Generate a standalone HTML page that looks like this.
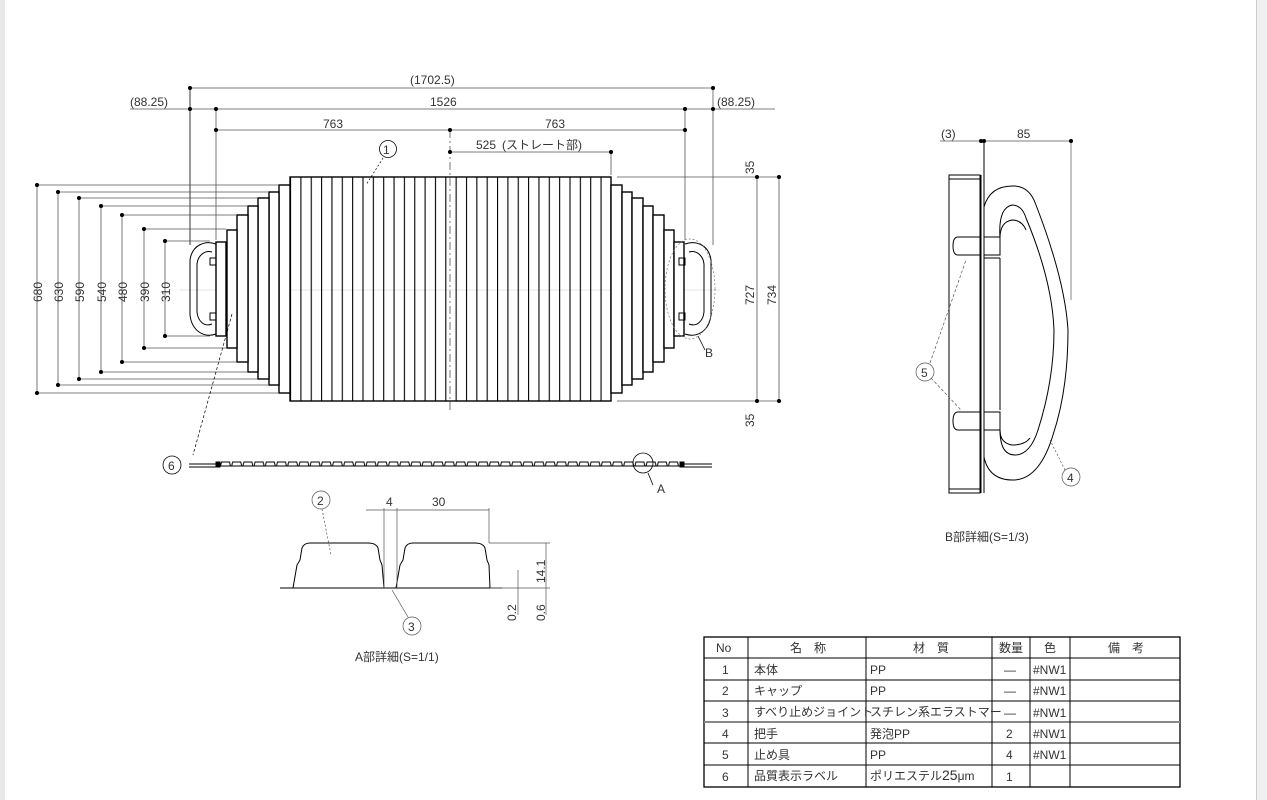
<!DOCTYPE html>
<html><head><meta charset="utf-8"><style>
body{margin:0;background:#fff;}
svg{display:block;font-family:"Liberation Sans","Noto Sans CJK JP",sans-serif;}
text{fill:#333;font-size:12px;}
</style></head><body>
<svg width="1267" height="800" viewBox="0 0 1267 800">
<defs>
<pattern id="sl" x="290" y="0" width="10.35" height="10" patternUnits="userSpaceOnUse">
<line x1="0.5" y1="0" x2="0.5" y2="10" stroke="#000" stroke-width="1.2"/>
</pattern>
<pattern id="ch" x="220" y="460" width="11.2" height="10" patternUnits="userSpaceOnUse">
<path d="M0.5 6 L1.5 2 H9.5 L10.5 6" fill="none" stroke="#000" stroke-width="1"/>
</pattern>
</defs>
<rect x="0" y="0" width="5" height="800" fill="#e8e8e8"/>
<rect x="1257" y="0" width="10" height="800" fill="#f0f0f0"/>
<rect x="1256" y="0" width="1" height="800" fill="#ccc"/>

<g stroke="#555" stroke-width="0.8" fill="none">
<line x1="190" y1="88" x2="713" y2="88"/>
<line x1="130" y1="109" x2="775" y2="109"/>
<line x1="216" y1="130" x2="685" y2="130"/>
<line x1="450" y1="152" x2="611" y2="152"/>
<line x1="190" y1="88" x2="190" y2="245" stroke="#000"/>
<line x1="216" y1="109" x2="216" y2="240"/>
<line x1="713" y1="88" x2="713" y2="245"/>
<line x1="685" y1="109" x2="685" y2="240"/>
<line x1="611" y1="152" x2="611" y2="175"/>
<line x1="450" y1="130" x2="450" y2="410" stroke-dasharray="8,3,2,3"/>
<line x1="37" y1="185" x2="37" y2="393"/><line x1="37" y1="185" x2="278" y2="185"/><line x1="37" y1="393" x2="278" y2="393"/>
<line x1="58" y1="192" x2="58" y2="385"/><line x1="58" y1="192" x2="268" y2="192"/><line x1="58" y1="385" x2="268" y2="385"/>
<line x1="79" y1="198" x2="79" y2="379"/><line x1="79" y1="198" x2="257" y2="198"/><line x1="79" y1="379" x2="257" y2="379"/>
<line x1="101" y1="206" x2="101" y2="372"/><line x1="101" y1="206" x2="247" y2="206"/><line x1="101" y1="372" x2="247" y2="372"/>
<line x1="122" y1="215" x2="122" y2="362"/><line x1="122" y1="215" x2="236" y2="215"/><line x1="122" y1="362" x2="236" y2="362"/>
<line x1="144" y1="229" x2="144" y2="348"/><line x1="144" y1="229" x2="226" y2="229"/><line x1="144" y1="348" x2="226" y2="348"/>
<line x1="165" y1="241" x2="165" y2="336"/><line x1="165" y1="241" x2="210" y2="241"/><line x1="165" y1="336" x2="210" y2="336"/>
<line x1="617" y1="177" x2="779" y2="177"/><line x1="617" y1="401" x2="779" y2="401"/>
<line x1="757" y1="177" x2="757" y2="401"/><line x1="779" y1="177" x2="779" y2="401"/>
<line x1="180" y1="290" x2="720" y2="290" stroke="#ddd"/>
</g>
<g fill="#000">
<circle cx="190" cy="88" r="2"/><circle cx="713" cy="88" r="2"/>
<circle cx="190" cy="109" r="2"/><circle cx="216" cy="109" r="2"/><circle cx="685" cy="109" r="2"/><circle cx="713" cy="109" r="2"/>
<circle cx="216" cy="130" r="2"/><circle cx="450" cy="130" r="2"/><circle cx="685" cy="130" r="2"/>
<circle cx="450" cy="152" r="2"/><circle cx="611" cy="152" r="2"/>
<circle cx="37" cy="185" r="2"/><circle cx="37" cy="393" r="2"/>
<circle cx="58" cy="192" r="2"/><circle cx="58" cy="385" r="2"/>
<circle cx="79" cy="198" r="2"/><circle cx="79" cy="379" r="2"/>
<circle cx="101" cy="206" r="2"/><circle cx="101" cy="372" r="2"/>
<circle cx="122" cy="215" r="2"/><circle cx="122" cy="362" r="2"/>
<circle cx="144" cy="229" r="2"/><circle cx="144" cy="348" r="2"/>
<circle cx="165" cy="241" r="2"/><circle cx="165" cy="336" r="2"/>
<circle cx="757" cy="177" r="2"/><circle cx="757" cy="401" r="2"/>
<circle cx="779" cy="177" r="2"/><circle cx="779" cy="401" r="2"/>
</g>
<g font-size="14">
<text x="410" y="84">(1702.5)</text>
<text x="130" y="106">(88.25)</text>
<text x="717" y="106">(88.25)</text>
<text x="430" y="106">1526</text>
<text x="323" y="128">763</text>
<text x="545" y="128">763</text>
<text x="476" y="149">525</text><text x="502" y="149" font-size="10">(ストレート部)</text>
<g transform="rotate(-90)">
<text x="-302" y="42">680</text><text x="-302" y="63">630</text><text x="-302" y="84">590</text>
<text x="-302" y="106">540</text><text x="-302" y="127">480</text><text x="-302" y="149">390</text>
<text x="-302" y="170">310</text>
<text x="-305" y="754">727</text><text x="-305" y="776">734</text>
<text x="-174" y="754">35</text><text x="-427" y="754">35</text>
</g>
</g>

<g stroke="#000" stroke-width="1.4" fill="#fff">
<rect x="290" y="177" width="321" height="224" fill="url(#sl)"/>
<rect x="279" y="185" width="11" height="208"/><rect x="611" y="185" width="11" height="208"/>
<rect x="269" y="192" width="10" height="193"/><rect x="622" y="192" width="10" height="193"/>
<rect x="258" y="198" width="11" height="181"/><rect x="632" y="198" width="11" height="181"/>
<rect x="248" y="206" width="10" height="166"/><rect x="643" y="206" width="10" height="166"/>
<rect x="237" y="215" width="11" height="147"/><rect x="653" y="215" width="11" height="147"/>
<rect x="227" y="230" width="10" height="118"/><rect x="664" y="230" width="10" height="118"/>
<rect x="216" y="242" width="10" height="94"/><rect x="674" y="242" width="10" height="94"/>
</g>
<g stroke="#000" stroke-width="1" fill="none">
<path d="M216 244 C 205 240 192 245 190 260 L 190 315 C 192 332 205 338 216 334"/>
<path d="M212 252 C 205 250 198 255 197 264 L 197 312 C 198 322 205 327 212 324"/>
<rect x="210" y="258" width="6" height="7"/><rect x="210" y="313" width="6" height="7"/>
<path d="M685 244 C 696 240 709 245 711 260 L 711 315 C 709 332 696 338 685 334"/>
<path d="M689 252 C 696 250 703 255 704 264 L 704 312 C 703 322 696 327 689 324"/>
<rect x="679" y="258" width="6" height="7"/><rect x="679" y="313" width="6" height="7"/>
<ellipse cx="690" cy="289" rx="25" ry="50" stroke="#777" stroke-width="0.7" stroke-dasharray="2,2"/>
<line x1="698" y1="336" x2="705" y2="350" stroke-width="0.8"/>
<circle cx="388" cy="149" r="8.5" stroke-width="0.8"/>
<line x1="383" y1="158" x2="366" y2="185" stroke-width="0.7" stroke-dasharray="2,2"/>
<line x1="232" y1="314" x2="193" y2="455" stroke-width="0.7" stroke-dasharray="3,2"/>
<circle cx="172" cy="465" r="9" stroke-width="0.8"/>
</g>
<text x="383" y="154" font-size="12">1</text>
<text x="705" y="357" font-size="14">B</text>
<text x="168" y="470" font-size="13">6</text>

<g stroke="#000" fill="none" stroke-width="1">
<line x1="189" y1="464" x2="220" y2="464"/><line x1="189" y1="467" x2="220" y2="467"/>
<rect x="216" y="462" width="4" height="5" fill="#000"/>
<rect x="220" y="458" width="459" height="8" fill="url(#ch)" stroke="none"/>
<line x1="220" y1="466" x2="680" y2="466"/>
<rect x="680" y="462" width="4" height="5" fill="#000"/>
<line x1="684" y1="464" x2="712" y2="464"/><line x1="684" y1="467" x2="712" y2="467"/>
<circle cx="643" cy="463" r="10" stroke-width="0.8"/>
<line x1="648" y1="473" x2="653" y2="485" stroke-width="0.8"/>
</g>
<text x="657" y="493" font-size="14">A</text>

<g stroke="#000" stroke-width="1" fill="none">
<line x1="280" y1="588" x2="502" y2="588"/>
<path d="M293 588 L297 565 L300 560 L302 548 Q304 543 310 543 L368 543 Q376 543 378 548 L380 560 L382 565 L384 588"/>
<path d="M396 588 L400 565 L403 560 L405 548 Q407 543 413 543 L475 543 Q483 543 485 548 L487 560 L489 565 L490 588"/>
<g stroke-width="0.7" stroke="#555">
<line x1="384" y1="508" x2="384" y2="588"/><line x1="397" y1="508" x2="397" y2="588"/><line x1="489" y1="508" x2="489" y2="543"/>
<line x1="366" y1="510" x2="489" y2="510"/>
<line x1="489" y1="543" x2="550" y2="543"/><line x1="546" y1="543" x2="546" y2="615"/>
<line x1="490" y1="588" x2="550" y2="588"/><line x1="518" y1="570" x2="518" y2="615"/>
<circle cx="321" cy="500" r="9"/>
<line x1="322" y1="509" x2="331" y2="555" stroke-dasharray="2,2"/>
<circle cx="412" cy="626" r="9"/>
<line x1="408" y1="617" x2="392" y2="590"/>
</g>
</g>
<text x="317" y="505" font-size="13">2</text><text x="408" y="631" font-size="13">3</text>
<text x="386" y="506" font-size="13">4</text><text x="432" y="506" font-size="13">30</text>
<g transform="rotate(-90)" font-size="13">
<text x="-583" y="545">14.1</text><text x="-621" y="516">0.2</text><text x="-621" y="545">0.6</text>
</g>
<text x="355" y="661" font-size="14">A部詳細(S=1/1)</text>

<g stroke="#000" stroke-width="1" fill="none">
<rect x="949" y="175" width="31" height="318"/>
<line x1="949" y1="179" x2="980" y2="179"/><line x1="949" y1="489" x2="980" y2="489"/>
<line x1="981" y1="175" x2="981" y2="493"/><line x1="984" y1="140" x2="984" y2="493"/>
<path d="M984 255 L984 207 Q990 185 1015 186 Q1030 187 1036 205 Q1065 280 1068 330 Q1068 390 1053 435 Q1040 478 1015 480 Q989 481 984 457 L984 430"/>
<path d="M1000 238 Q998 208 1012 205 Q1022 205 1026 218 Q1052 280 1054 330 Q1054 380 1038 430 Q1030 455 1015 455 Q1000 455 1000 430"/>
<path d="M1000 238 Q1000 222 1012 220 Q1022 220 1026 230"/>
<path d="M1000 430 Q1000 443 1012 445 Q1025 445 1030 438"/>
<rect x="984" y="237" width="16" height="18"/><rect x="984" y="412" width="16" height="18"/>
<line x1="984" y1="258" x2="1000" y2="258"/><line x1="1000" y1="258" x2="1000" y2="410"/>
<path d="M980 237 L958 237 Q953 237 953 246 Q953 255 958 255 L980 255"/>
<path d="M980 412 L958 412 Q953 412 953 421 Q953 430 958 430 L980 430"/>
<g stroke-width="0.7" stroke="#555">
<line x1="940" y1="141" x2="1071" y2="141"/><line x1="1071" y1="141" x2="1071" y2="300"/>
<circle cx="925" cy="372" r="9"/>
<line x1="930" y1="363" x2="966" y2="260" stroke-dasharray="3,2"/>
<line x1="931" y1="378" x2="961" y2="410" stroke-dasharray="3,2"/>
<circle cx="1071" cy="477" r="9"/>
<line x1="1065" y1="470" x2="1050" y2="440" stroke-dasharray="2,2"/>
</g>
</g>
<g fill="#000"><circle cx="981" cy="141" r="2"/><circle cx="984" cy="141" r="2"/><circle cx="1071" cy="141" r="2"/></g>
<text x="941" y="138" font-size="13">(3)</text><text x="1017" y="138" font-size="14">85</text>
<text x="921" y="377" font-size="13">5</text><text x="1067" y="482" font-size="13">4</text>
<text x="945" y="541" font-size="14">B部詳細(S=1/3)</text>

<g stroke="#000" stroke-width="1" fill="none">
<rect x="704" y="637" width="476" height="150" stroke-width="1.3"/>
<line x1="704" y1="658" x2="1180" y2="658"/><line x1="704" y1="680" x2="1180" y2="680"/>
<line x1="704" y1="701" x2="1180" y2="701"/><line x1="704" y1="722" x2="1180" y2="722" stroke="#888" stroke-width="2"/>
<line x1="704" y1="743" x2="1180" y2="743"/><line x1="704" y1="765" x2="1180" y2="765"/>
<line x1="748" y1="637" x2="748" y2="787"/><line x1="866" y1="637" x2="866" y2="787"/>
<line x1="992" y1="637" x2="992" y2="787"/><line x1="1030" y1="637" x2="1030" y2="787"/>
<line x1="1070" y1="637" x2="1070" y2="787"/>
</g>
<g font-size="11">
<text x="716" y="652" font-size="13">No</text><text x="790" y="652">名　称</text><text x="913" y="652">材　質</text>
<text x="999" y="652">数量</text><text x="1044" y="652">色</text><text x="1108" y="652">備　考</text>
<text x="722" y="674" font-size="13">1</text><text x="754" y="674">本体</text><text x="870" y="674" font-size="13">PP</text><text x="1004" y="674">—</text><text x="1033" y="674">#NW1</text>
<text x="722" y="695" font-size="13">2</text><text x="754" y="695" font-size="9">キャップ</text><text x="870" y="695" font-size="13">PP</text><text x="1004" y="695">—</text><text x="1033" y="695">#NW1</text>
<text x="722" y="717" font-size="13">3</text><text x="754" y="716" font-size="9">すべり止めジョイント</text><text x="870" y="716" font-size="9">スチレン系エラストマー</text><text x="1004" y="717">—</text><text x="1033" y="717">#NW1</text>
<text x="722" y="738" font-size="13">4</text><text x="754" y="738">把手</text><text x="870" y="738" font-size="12">発泡PP</text><text x="1006" y="738" font-size="13">2</text><text x="1033" y="738">#NW1</text>
<text x="722" y="759" font-size="13">5</text><text x="754" y="759">止め具</text><text x="870" y="759" font-size="13">PP</text><text x="1006" y="759" font-size="13">4</text><text x="1033" y="759">#NW1</text>
<text x="722" y="781" font-size="13">6</text><text x="754" y="780" font-size="9">品質表示ラベル</text><text x="870" y="780" font-size="9">ポリエステル<tspan font-size="14">25</tspan>μm</text><text x="1006" y="781" font-size="13">1</text>
</g>
</svg>
</body></html>
